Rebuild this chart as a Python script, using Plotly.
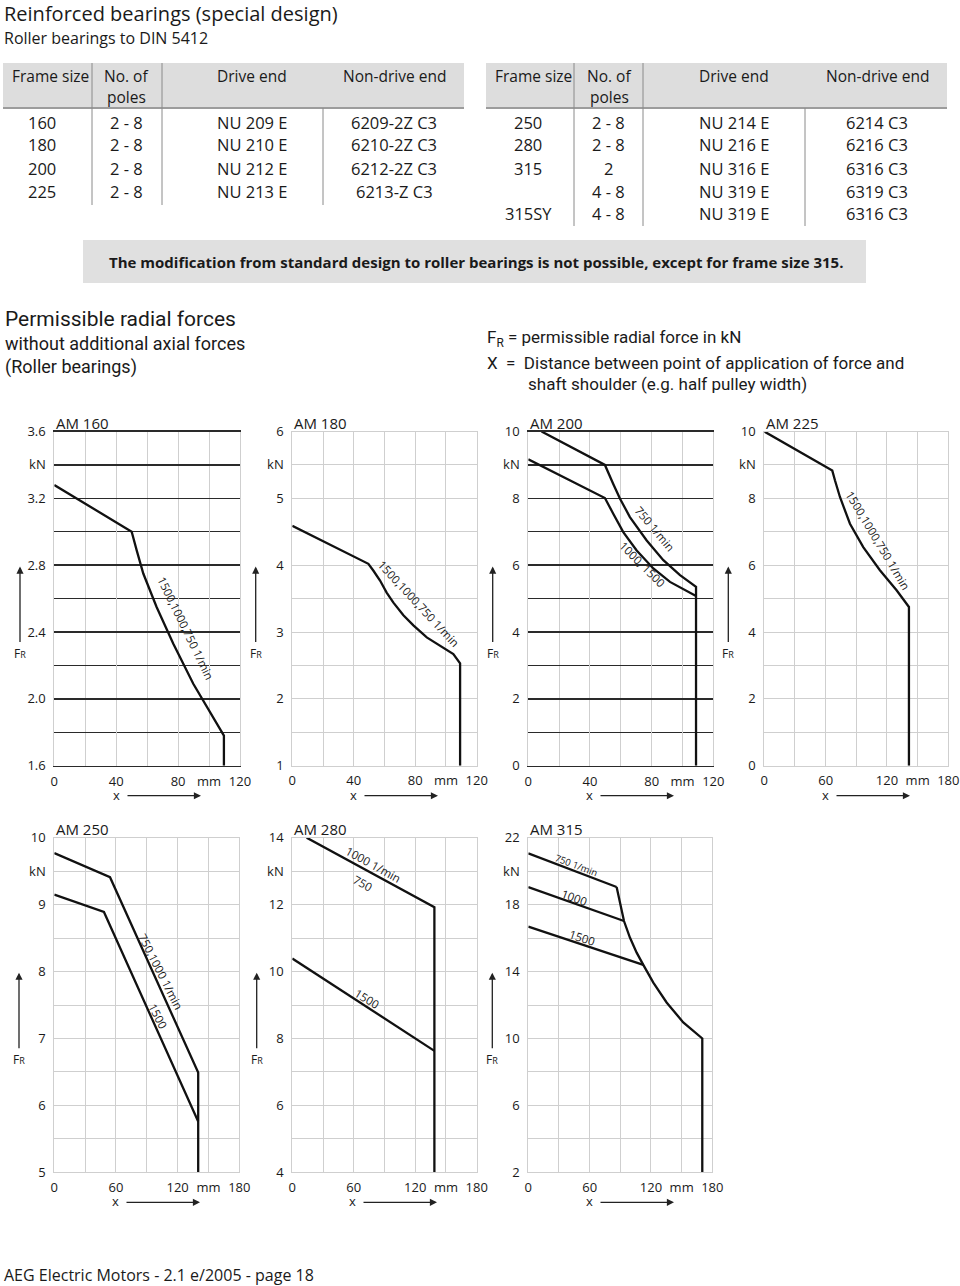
import plotly.graph_objects as go

# ---------------- data ----------------
t1_frames = ["160", "180", "200", "225"]
t1_poles = ["2 - 8", "2 - 8", "2 - 8", "2 - 8"]
t1_drive = ["NU 209 E", "NU 210 E", "NU 212 E", "NU 213 E"]
t1_nondrive = ["6209-2Z C3", "6210-2Z C3", "6212-2Z C3", "6213-Z C3"]

t2_frames = ["250", "280", "315", "", "315SY"]
t2_poles = ["2 - 8", "2 - 8", "2", "4 - 8", "4 - 8"]
t2_drive = ["NU 214 E", "NU 216 E", "NU 316 E", "NU 319 E", "NU 319 E"]
t2_nondrive = ["6214 C3", "6216 C3", "6316 C3", "6319 C3", "6316 C3"]

x120_ticks = [0, 40, 80, 100, 120]
x120_text = ["0", "40", "80", "mm", "120"]
x180_ticks = [0, 60, 120, 150, 180]
x180_text = ["0", "60", "120", "mm", "180"]

am160_yticks = [3.6, 3.4, 3.2, 2.8, 2.4, 2.0, 1.6]
am160_ytext = ["3.6", "kN", "3.2", "2.8", "2.4", "2.0", "1.6"]
am180_yticks = [6, 5.5, 5, 4, 3, 2, 1]
am180_ytext = ["6", "kN", "5", "4", "3", "2", "1"]
am200_yticks = [10, 9, 8, 6, 4, 2, 0]
am200_ytext = ["10", "kN", "8", "6", "4", "2", "0"]
am250_yticks = [10, 9.5, 9, 8, 7, 6, 5]
am250_ytext = ["10", "kN", "9", "8", "7", "6", "5"]
am280_yticks = [14, 13, 12, 10, 8, 6, 4]
am280_ytext = ["14", "kN", "12", "10", "8", "6", "4"]
am315_yticks = [22, 20, 18, 14, 10, 6, 2]
am315_ytext = ["22", "kN", "18", "14", "10", "6", "2"]

am160_x = [0, 50, 53.2, 57.5, 66.1, 76.9, 89.8, 102.7, 109.6, 109.6]
am160_y = [3.28, 3.0, 2.89, 2.75, 2.55, 2.33, 2.09, 1.89, 1.78, 1.6]

am180_x = [0, 49.5, 52.7, 57.1, 61.4, 65.8, 72.3, 78.8, 87.5, 96.1, 104.8, 109.2, 109.2]
am180_y = [4.59, 4.02, 3.92, 3.77, 3.59, 3.44, 3.25, 3.10, 2.92, 2.80, 2.67, 2.53, 1.0]

am200_750_x = [8.6, 49.7, 55.1, 59.5, 65.9, 76.8, 87.6, 98.4, 108.8, 108.8]
am200_750_y = [10, 9.0, 8.43, 7.99, 7.44, 6.74, 6.15, 5.70, 5.35, 0]
am200_1500_x = [0, 49.7, 55.1, 61.6, 70.3, 81.1, 91.9, 102.7, 108.8]
am200_1500_y = [9.17, 8.01, 7.54, 6.99, 6.44, 5.90, 5.50, 5.23, 5.08]

am225_x = [0, 66.5, 69.1, 74.0, 83.8, 96.8, 113.1, 129.4, 141.5, 141.5]
am225_y = [10, 8.83, 8.54, 8.04, 7.24, 6.54, 5.85, 5.25, 4.75, 0]

am250_1000_x = [0, 54.2, 140, 140]
am250_1000_y = [9.77, 9.41, 6.49, 5.0]
am250_1500_x = [0, 48.3, 140]
am250_1500_y = [9.15, 8.89, 5.76]

am280_1000_x = [14, 138.7, 138.7]
am280_1000_y = [14, 11.92, 4]
am280_1500_x = [0, 138.7]
am280_1500_y = [10.39, 7.63]

am315_750_x = [0, 86.4]
am315_750_y = [21.06, 19.05]
am315_1000_x = [0, 93.6]
am315_1000_y = [19.05, 17.02]
am315_1500_x = [0, 112.5]
am315_1500_y = [16.69, 14.40]
am315_env_x = [86.4, 89.7, 93.6, 99.4, 106.0, 112.5, 122.3, 135.3, 151.6, 170.2, 170.2]
am315_env_y = [19.05, 18.02, 17.02, 16.03, 15.13, 14.40, 13.34, 12.15, 10.96, 10.0, 2.0]

# ---------------- layout helpers ----------------
W, H = 960, 1286
def PX(x): return x / W
def PY(y): return 1 - y / H

FONT = "Open Sans"
TXT = "#1a1a1a"
LIGHT = "#cfcfcf"
DARK = "#2a2a2a"

TOP = (431.5, 765.7)
BOT = (837.7, 1172.3)

panels = [
    dict(title="AM 160", xd=(54.3, 240), yd=TOP, xr=(0, 120), xg=20, xt=x120_ticks, xtt=x120_text,
         yr=(1.6, 3.6), yg=0.2, yt=am160_yticks, ytt=am160_ytext, hcol=DARK, hw=1.4,
         series=[(am160_x, am160_y)],
         labels=[("1500,1000,750 1/min", 85.0, 2.42, 64, 11.5)],
         fr_x=20, xlab=116),
    dict(title="AM 180", xd=(292.3, 476.7), yd=TOP, xr=(0, 120), xg=20, xt=x120_ticks, xtt=x120_text,
         yr=(1, 6), yg=0.5, yt=am180_yticks, ytt=am180_ytext, hcol=LIGHT, hw=1,
         series=[(am180_x, am180_y)],
         labels=[("1500,1000,750 1/min", 82.0, 3.42, 47, 11.5)],
         fr_x=255.7, xlab=353),
    dict(title="AM 200", xd=(528.3, 713.3), yd=TOP, xr=(0, 120), xg=20, xt=x120_ticks, xtt=x120_text,
         yr=(0, 10), yg=1, yt=am200_yticks, ytt=am200_ytext, hcol=DARK, hw=1.4,
         series=[(am200_750_x, am200_750_y), (am200_1500_x, am200_1500_y)],
         labels=[("750 1/min", 82.0, 7.10, 50, 11.5), ("1000, 1500", 74.2, 6.02, 45, 11.5)],
         fr_x=492.7, xlab=589),
    dict(title="AM 225", xd=(764.3, 948.3), yd=TOP, xr=(0, 180), xg=30, xt=x180_ticks, xtt=x180_text,
         yr=(0, 10), yg=1, yt=am200_yticks, ytt=am200_ytext, hcol=LIGHT, hw=1,
         series=[(am225_x, am225_y)],
         labels=[("1500,1000,750 1/min", 111.5, 6.75, 59, 11.5)],
         fr_x=728.3, xlab=825),
    dict(title="AM 250", xd=(54.3, 239.3), yd=BOT, xr=(0, 180), xg=30, xt=x180_ticks, xtt=x180_text,
         yr=(5, 10), yg=0.5, yt=am250_yticks, ytt=am250_ytext, hcol=LIGHT, hw=1,
         series=[(am250_1000_x, am250_1000_y), (am250_1500_x, am250_1500_y)],
         labels=[("750,1000 1/min", 103.5, 8.0, 63, 11.5), ("1500", 100.5, 7.34, 63, 11.5)],
         fr_x=19, xlab=115),
    dict(title="AM 280", xd=(292.3, 476.7), yd=BOT, xr=(0, 180), xg=30, xt=x180_ticks, xtt=x180_text,
         yr=(4, 14), yg=1, yt=am280_yticks, ytt=am280_ytext, hcol=LIGHT, hw=1,
         series=[(am280_1000_x, am280_1000_y), (am280_1500_x, am280_1500_y)],
         labels=[("1000 1/min", 79.1, 13.2, 29, 11.5), ("750", 69.3, 12.64, 29, 11.5),
                 ("1500", 72.6, 9.2, 31, 11.5)],
         fr_x=256.7, xlab=352),
    dict(title="AM 315", xd=(528.3, 712.3), yd=BOT, xr=(0, 180), xg=30, xt=x180_ticks, xtt=x180_text,
         yr=(2, 22), yg=2, yt=am315_yticks, ytt=am315_ytext, hcol=LIGHT, hw=1,
         series=[(am315_750_x, am315_750_y), (am315_1000_x, am315_1000_y),
                 (am315_1500_x, am315_1500_y), (am315_env_x, am315_env_y)],
         labels=[("750 1/min", 47.3, 20.35, 21, 9.5), ("1000", 44.7, 18.4, 20, 11.5),
                 ("1500", 52.2, 16.05, 18, 11.5)],
         fr_x=492.3, xlab=589),
]

fig = go.Figure()
annotations = []
shapes = []

def text(t, x, y, size=16, xanchor="center", color=TXT, family=FONT, yanchor="middle"):
    annotations.append(dict(text=t, x=PX(x), y=PY(y), xref="paper", yref="paper",
                            showarrow=False, xanchor=xanchor, yanchor=yanchor,
                            font=dict(family=family, size=size, color=color)))

for i, p in enumerate(panels, start=1):
    xa = "x" if i == 1 else f"x{i}"
    ya = "y" if i == 1 else f"y{i}"
    for xs, ys in p["series"]:
        fig.add_trace(go.Scatter(x=xs, y=ys, mode="lines", xaxis=xa, yaxis=ya,
                                 line=dict(color="#111111", width=2.3),
                                 showlegend=False, hoverinfo="skip"))
    kx = "xaxis" if i == 1 else f"xaxis{i}"
    ky = "yaxis" if i == 1 else f"yaxis{i}"
    fig.update_layout({
        kx: dict(domain=[PX(p["xd"][0]), PX(p["xd"][1])], range=list(p["xr"]), anchor=ya,
                 tickmode="array", tickvals=p["xt"], ticktext=p["xtt"],
                 showgrid=True, gridcolor=LIGHT, gridwidth=1,
                 minor=dict(tickmode="linear", tick0=0, dtick=p["xg"], showgrid=True,
                            gridcolor=LIGHT, gridwidth=1, ticks=""),
                 zeroline=False, showline=True, mirror=True, linecolor=p["hcol"], linewidth=p["hw"],
                 ticks="", ticklabelstandoff=3, automargin=False,
                 tickfont=dict(family=FONT, size=13, color=TXT), fixedrange=True),
        ky: dict(domain=[PY(p["yd"][1]), PY(p["yd"][0])], range=list(p["yr"]), anchor=xa,
                 tickmode="array", tickvals=p["yt"], ticktext=p["ytt"],
                 showgrid=True, gridcolor=p["hcol"], gridwidth=p["hw"],
                 minor=dict(tickmode="linear", tick0=p["yr"][0], dtick=p["yg"], showgrid=True,
                            gridcolor=p["hcol"], gridwidth=p["hw"], ticks=""),
                 zeroline=False, showline=True, mirror=True, linecolor=LIGHT, linewidth=1,
                 ticks="", ticklabelstandoff=5, automargin=False,
                 tickfont=dict(family=FONT, size=13, color=TXT), fixedrange=True),
    })
    # curve labels
    for t, lx, ly, ang, sz in p["labels"]:
        annotations.append(dict(text=t, x=lx, y=ly, xref=xa, yref=ya, showarrow=False,
                                textangle=ang, font=dict(family=FONT, size=sz, color=TXT)))
    # panel title
    top = p["yd"][0]
    text(p["title"], p["xd"][0], top - 9, size=15, xanchor="left")
    # FR arrow and label
    arr_top = top + 135
    annotations.append(dict(text="", x=PX(p["fr_x"]), y=PY(arr_top), xref="paper", yref="paper",
                            ax=0, ay=77, showarrow=True, arrowhead=2, arrowsize=1.1,
                            arrowwidth=1.3, arrowcolor="#222", standoff=0))
    text("F<span style='font-size:9px'>R</span>", p["fr_x"], arr_top + 87, size=12)
    # x arrow and label
    xy = p["yd"][1] + 29
    text("x", p["xlab"], xy, size=13)
    annotations.append(dict(text="", x=PX(p["xlab"] + 85), y=PY(xy + 1), xref="paper", yref="paper",
                            ax=-75, ay=0, showarrow=True, arrowhead=2, arrowsize=1.1,
                            arrowwidth=1.3, arrowcolor="#222", standoff=0))

# ---------------- page texts & tables ----------------
text("Reinforced bearings (special design)", 2, 14, size=20, xanchor="left")
text("Roller bearings to DIN 5412", 2, 38, size=16, xanchor="left")

def hline(x0, x1, y, color, width):
    shapes.append(dict(type="line", xref="paper", yref="paper", x0=PX(x0), x1=PX(x1),
                       y0=PY(y), y1=PY(y), line=dict(color=color, width=width)))
def vline(x, y0, y1, color="#8a8a8a", width=1):
    shapes.append(dict(type="line", xref="paper", yref="paper", x0=PX(x), x1=PX(x),
                       y0=PY(y0), y1=PY(y1), line=dict(color=color, width=width)))
def rect(x0, x1, y0, y1, fill):
    shapes.append(dict(type="rect", xref="paper", yref="paper", x0=PX(x0), x1=PX(x1),
                       y0=PY(y1), y1=PY(y0), fillcolor=fill, line=dict(width=0), layer="below"))

HS = 15.5
BS = 16.5
# table 1
rect(3, 464, 63, 108, "#dddddd")
hline(3, 464, 108, "#9c9c9c", 2)
vline(92, 63, 205); vline(162, 63, 205); vline(323, 108, 205)
text("Frame size", 50, 76, HS); text("No. of", 126, 76, HS); text("poles", 126, 97, HS)
text("Drive end", 252, 76, HS); text("Non-drive end", 394, 76, HS)
row_y1 = [122, 145, 168, 191]
for k, yy in enumerate(row_y1):
    text(t1_frames[k], 42, yy, BS); text(t1_poles[k], 126, yy, BS)
    text(t1_drive[k], 252, yy, BS); text(t1_nondrive[k], 394, yy, BS)

# table 2
rect(486, 947, 63, 108, "#dddddd")
hline(486, 947, 108, "#9c9c9c", 2)
vline(574, 63, 226); vline(643, 63, 226); vline(805, 108, 226)
text("Frame size", 533, 76, HS); text("No. of", 609, 76, HS); text("poles", 609, 97, HS)
text("Drive end", 734, 76, HS); text("Non-drive end", 877, 76, HS)
row_y2 = [122, 145, 168, 191, 214]
for k, yy in enumerate(row_y2):
    text(t2_frames[k], 528, yy, BS); text(t2_poles[k], 608, yy, BS)
    text(t2_drive[k], 734, yy, BS); text(t2_nondrive[k], 877, yy, BS)

# note box
rect(83, 866, 240, 283, "#e0e0e0")
text("<b>The modification from standard design to roller bearings is not possible, except for frame size 315.</b>",
     476, 262, 15)

# permissible radial forces block
COND = "Roboto"
text("Permissible radial forces", 3, 319, 21, xanchor="left", family=COND)
text("without additional axial forces", 3, 343, 18, xanchor="left", family=COND)
text("(Roller bearings)", 3, 367, 18, xanchor="left", family=COND)
text("F<sub>R</sub> = permissible radial force in kN", 485, 338, 17, xanchor="left", family=COND)
text("X  =  Distance between point of application of force and", 485, 363, 17, xanchor="left", family=COND)
text("shaft shoulder (e.g. half pulley width)", 526, 384, 17, xanchor="left", family=COND)

# footer
text("AEG Electric Motors - 2.1 e/2005 - page 18", 2, 1275, 16, xanchor="left")

fig.update_layout(width=W, height=H, margin=dict(l=0, r=0, t=0, b=0, pad=0, autoexpand=False),
                  paper_bgcolor="white", plot_bgcolor="white",
                  annotations=annotations, shapes=shapes, showlegend=False)

fig.write_html("out.html", config={"displayModeBar": False, "staticPlot": True},
               post_script="document.body.style.margin='0';document.body.style.padding='0';"
                           "document.documentElement.style.overflow='hidden';")
